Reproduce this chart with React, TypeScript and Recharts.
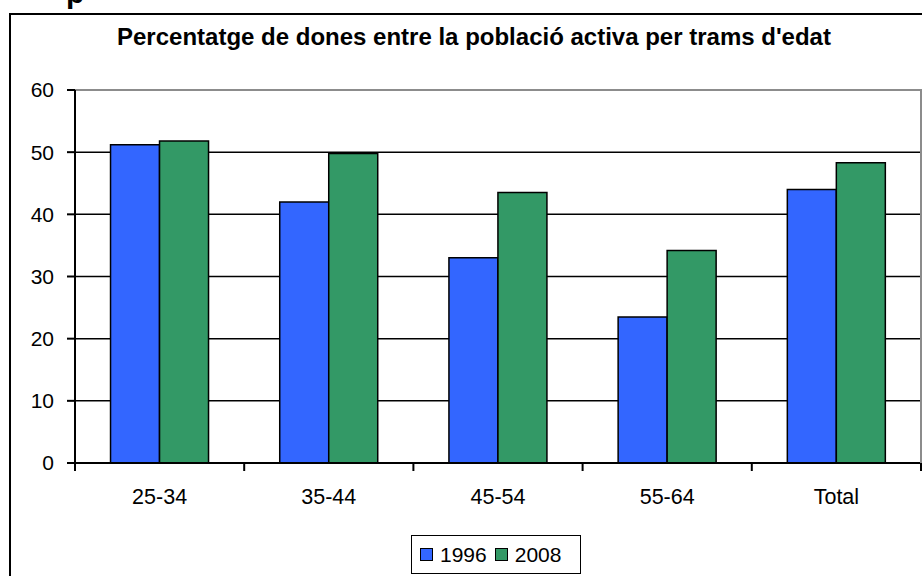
import { BarChart, Bar, XAxis, YAxis, CartesianGrid, Legend, ReferenceLine } from 'recharts';

const ageGroups = ['25-34', '35-44', '45-54', '55-64', 'Total'];
const women1996 = [51.2, 42.0, 33.0, 23.5, 44.0];
const women2008 = [51.8, 49.8, 43.5, 34.2, 48.3];
const yTicks = [0, 10, 20, 30, 40, 50, 60];

const data = ageGroups.map((cat, i) => ({ cat, y1996: women1996[i], y2008: women2008[i] }));

const FONT = 'Arial, "Liberation Sans", sans-serif';
const W = 922;
const H = 576;
const M = { top: 90, right: 1, bottom: 83, left: 0 };
const Y_W = 75;
const PLOT_W = W - M.left - M.right - Y_W;
const BAND = PLOT_W / ageGroups.length;

// tick y from recharts already sits tickSize+tickMargin below the axis
const XTick = (props: any) => {
  const { x, y, payload, index } = props;
  const left = x - BAND / 2;
  const axisY = y - 8;
  return (
    <g>
      <line x1={left} x2={left} y1={axisY} y2={axisY + 8} stroke="#000" strokeWidth={2} />
      {index === ageGroups.length - 1 && (
        <line x1={left + BAND} x2={left + BAND} y1={axisY} y2={axisY + 8} stroke="#000" strokeWidth={2} />
      )}
      <text x={x} y={axisY + 41} textAnchor="middle" fontSize={21.5} fontFamily={FONT} fill="#000">
        {payload.value}
      </text>
    </g>
  );
};

const LegendBox = (props: any) => {
  const items = props.payload || [];
  return (
    <div
      style={{
        display: 'flex',
        alignItems: 'center',
        gap: 8,
        boxSizing: 'border-box',
        width: 170,
        height: 39,
        border: '1.5px solid #000',
        padding: '0 0 0 8px',
        fontFamily: FONT,
        fontSize: 21,
        color: '#000',
        background: '#fff',
      }}
    >
      {items.map((it: any) => (
        <span key={it.value} style={{ display: 'flex', alignItems: 'center', gap: 7 }}>
          <span style={{ width: 11, height: 11, background: it.color, border: '1.5px solid #000' }} />
          {it.value}
        </span>
      ))}
    </div>
  );
};

export default function App() {
  return (
    <div style={{ position: 'absolute', left: 0, top: 0, width: W, height: H, overflow: 'hidden', background: '#fff' }}>
      <div style={{ position: 'absolute', left: 66, top: -22, fontFamily: FONT, fontWeight: 'bold', fontSize: 30, lineHeight: 1 }}>p</div>
      <div style={{ position: 'absolute', left: 9, top: 13, width: 960, height: 600, border: '2px solid #000', boxSizing: 'border-box' }} />
      <div
        style={{
          position: 'absolute',
          left: 9,
          top: 25,
          width: 930,
          textAlign: 'center',
          fontFamily: FONT,
          fontWeight: 'bold',
          fontSize: 24,
          lineHeight: 1,
          whiteSpace: 'nowrap',
        }}
      >
        Percentatge de dones entre la població activa per trams d'edat
      </div>
      <div style={{ position: 'absolute', left: 0, top: 0 }}>
        <BarChart width={W} height={H} data={data} margin={M} barCategoryGap="21%" barGap={0}>
          <CartesianGrid vertical={false} horizontalValues={[10, 20, 30, 40, 50]} stroke="#000" strokeWidth={1.5} />
          <ReferenceLine y={60} stroke="#8c8c8c" strokeWidth={2} />
          <XAxis
            dataKey="cat"
            interval={0}
            height={30}
            tickSize={6}
            tickMargin={2}
            tickLine={false}
            axisLine={{ stroke: '#000', strokeWidth: 2 }}
            tick={<XTick />}
          />
          <YAxis
            width={Y_W}
            domain={[0, 60]}
            ticks={yTicks}
            tickSize={8}
            tickMargin={13}
            axisLine={{ stroke: '#000', strokeWidth: 2 }}
            tickLine={{ stroke: '#000', strokeWidth: 2 }}
            tick={{ fontSize: 21, fontFamily: FONT, fill: '#000' }}
          />
          <Legend
            layout="vertical"
            align="center"
            verticalAlign="middle"
            content={<LegendBox />}
            wrapperStyle={{ position: 'absolute', left: 411, top: 535, width: 170 }}
          />
          <Bar dataKey="y1996" name="1996" fill="#3366FF" stroke="#000" strokeWidth={1.5} isAnimationActive={false} />
          <Bar dataKey="y2008" name="2008" fill="#339966" stroke="#000" strokeWidth={1.5} isAnimationActive={false} />
        </BarChart>
      </div>
      <div
        style={{
          position: 'absolute',
          left: W - M.right - 1,
          top: M.top - 1,
          width: 2,
          height: H - M.top - M.bottom - 30 + 1,
          background: '#8c8c8c',
        }}
      />
    </div>
  );
}
